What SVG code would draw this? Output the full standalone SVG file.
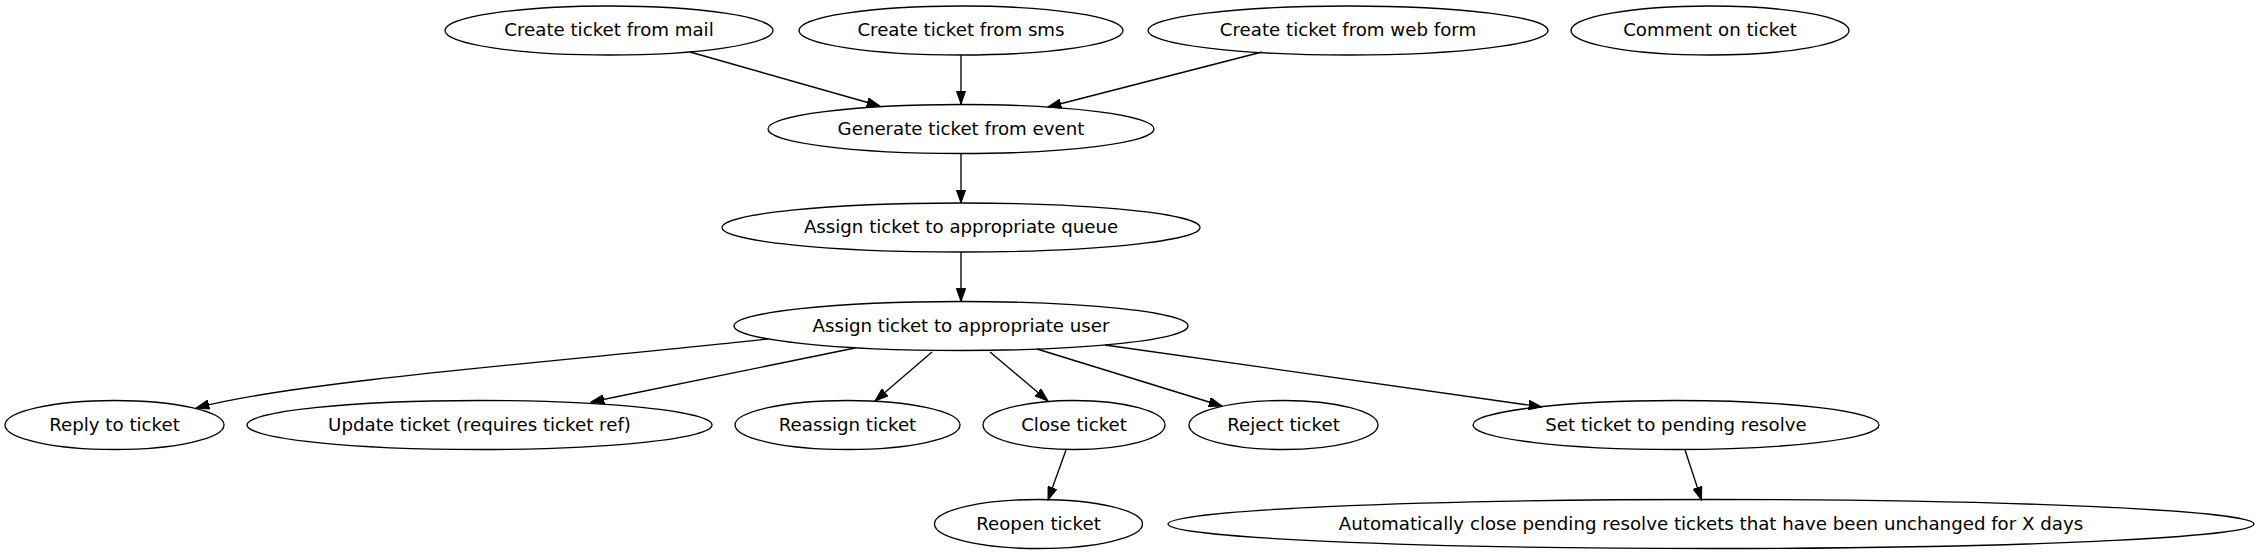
<svg xmlns="http://www.w3.org/2000/svg" width="2260" height="555" viewBox="0 0 2260 555">
<style>
.node ellipse{fill:none;stroke:#000;stroke-width:1.33}
.node text{font-family:"DejaVu Sans",sans-serif;font-size:18.2px;text-anchor:middle;fill:#000}
.edges path{fill:none;stroke:#000;stroke-width:1.33;marker-end:url(#arr)}
</style>
<defs>
<marker id="arr" markerUnits="userSpaceOnUse" viewBox="0 0 14 10" markerWidth="14" markerHeight="10" refX="13.3" refY="5" orient="auto">
<path d="M0,0.3 L13.3,5 L0,9.7 z" fill="#000" stroke="#000" stroke-width="1"/>
</marker>
</defs>
<rect width="2260" height="555" fill="#fff"/>
<g class="edges" id="edges">
<path d="M690,52 L880,106"/>
<path d="M961,55 L961,104"/>
<path d="M1262,52 L1048,107"/>
<path d="M961,153 L961,203"/>
<path d="M961,252 L961,301.5"/>
<path d="M768,339 C600,358 300,380 196,408"/>
<path d="M855,348 L591,402"/>
<path d="M932,352 L875,401"/>
<path d="M990,352 L1048,401"/>
<path d="M1037,349 L1222,406"/>
<path d="M1105,345 L1542,407"/>
<path d="M1066,450 L1048,500"/>
<path d="M1685,450 L1701.5,500"/>
</g>
<g class="node" id="mail"><ellipse cx="609" cy="30.5" rx="164" ry="24.5"/><text x="609" y="36">Create ticket from mail</text></g>
<g class="node" id="sms"><ellipse cx="961" cy="30.5" rx="162" ry="24.5"/><text x="961" y="36">Create ticket from sms</text></g>
<g class="node" id="web"><ellipse cx="1348" cy="30.5" rx="200" ry="24.5"/><text x="1348" y="36">Create ticket from web form</text></g>
<g class="node" id="comment"><ellipse cx="1710" cy="30.5" rx="139" ry="24.5"/><text x="1710" y="36">Comment on ticket</text></g>
<g class="node" id="generate"><ellipse cx="961" cy="129" rx="193" ry="24.5"/><text x="961" y="134.5">Generate ticket from event</text></g>
<g class="node" id="queue"><ellipse cx="961" cy="227.5" rx="239" ry="24.5"/><text x="961" y="233">Assign ticket to appropriate queue</text></g>
<g class="node" id="user"><ellipse cx="961" cy="326" rx="227" ry="24.5"/><text x="961" y="331.5">Assign ticket to appropriate user</text></g>
<g class="node" id="reply"><ellipse cx="114.5" cy="425" rx="109.5" ry="24.5"/><text x="114.5" y="430.5">Reply to ticket</text></g>
<g class="node" id="update"><ellipse cx="479.5" cy="425" rx="232.5" ry="24.5"/><text x="479.5" y="430.5">Update ticket (requires ticket ref)</text></g>
<g class="node" id="reassign"><ellipse cx="847.5" cy="425" rx="112.5" ry="24.5"/><text x="847.5" y="430.5">Reassign ticket</text></g>
<g class="node" id="close"><ellipse cx="1074" cy="425" rx="91" ry="24.5"/><text x="1074" y="430.5">Close ticket</text></g>
<g class="node" id="reject"><ellipse cx="1283.5" cy="425" rx="94.5" ry="24.5"/><text x="1283.5" y="430.5">Reject ticket</text></g>
<g class="node" id="pending"><ellipse cx="1676" cy="425" rx="203" ry="24.5"/><text x="1676" y="430.5">Set ticket to pending resolve</text></g>
<g class="node" id="reopen"><ellipse cx="1038.5" cy="524" rx="104" ry="24.5"/><text x="1038.5" y="529.5">Reopen ticket</text></g>
<g class="node" id="auto"><ellipse cx="1711" cy="524" rx="543" ry="24.5"/><text x="1711" y="529.5">Automatically close pending resolve tickets that have been unchanged for X days</text></g>
</svg>
